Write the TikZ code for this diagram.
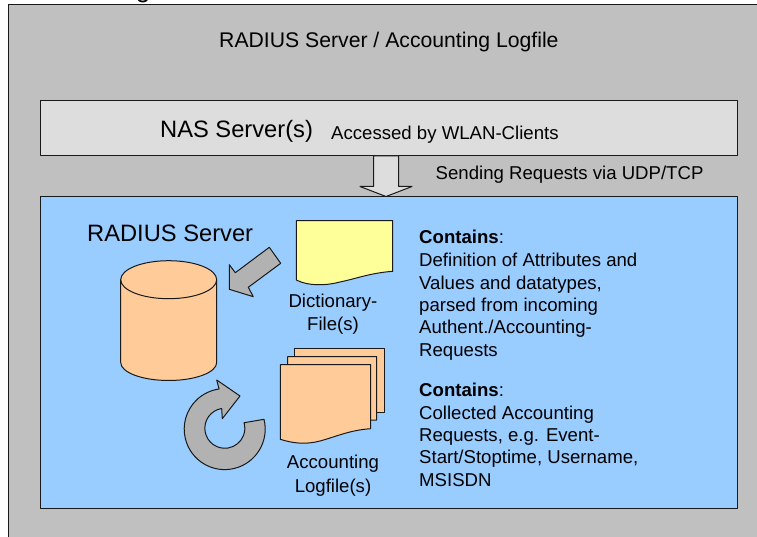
\documentclass[tikz,border=0pt]{standalone}
\usepackage{fontspec}
\setmainfont{Liberation Sans}
\newcommand{\txtfont}[1]{\fontsize{#1}{22.3}\selectfont}
\tikzset{
  shape line/.style={draw=black!90,line width=1pt,line join=round},
  base label/.style={inner sep=0pt,anchor=base west,font=\txtfont{18.6}},
  centre label/.style={inner sep=0pt,anchor=base,font=\txtfont{18.6}},
  big label/.style={inner sep=0pt,anchor=base west,font=\txtfont{23.7}},
  title label/.style={inner sep=0pt,anchor=base west,font=\txtfont{21.2}},
  side text/.style={inner sep=0pt,anchor=north west,align=left,font=\txtfont{18.6}},
  block arrow/.style={shape line,fill=arrowgray},
}
\definecolor{outergray}{HTML}{C0C0C0}
\definecolor{nasgray}{HTML}{DDDDDD}
\definecolor{panelblue}{HTML}{99CCFF}
\definecolor{peach}{HTML}{FFCC99}
\definecolor{paleyellow}{HTML}{FFFF99}
\definecolor{arrowgray}{HTML}{B2B2B2}
\begin{document}
\begin{tikzpicture}[x=1pt,y=-1pt]
\useasboundingbox (0,0) rectangle (757,537);
\begin{scope}
\clip (0,0) rectangle (757,537);
\node[inner sep=0pt,anchor=base,font=\txtfont{26}] (cut) at (143,-2.2) {g};
\draw[shape line,fill=outergray] (8.5,4.5) rectangle (770,550);
\end{scope}
\node[title label] (title) at (219,48) {RADIUS Server / Accounting Logfile};
\draw[shape line,fill=nasgray] (40.5,100.5) rectangle (737,156);
\node[big label] (nas) at (160,138) {NAS Server(s)};
\node[base label] (acc) at (331,140) {Accessed by WLAN-Clients};
\draw[shape line,fill=nasgray] (373.5,156) -- (398.5,156) -- (398.5,186.5) -- (412,186.5) -- (386,196.5) -- (360,186.5) -- (373.5,186.5) -- cycle;
\node[base label] (send) at (435.5,180) {Sending Requests via UDP/TCP};
\draw[shape line,fill=panelblue] (40.5,196.5) rectangle (737,508);
\node[big label] (rad) at (87,241.5) {RADIUS Server};
% cylinder
\draw[shape line,fill=peach] (120.7,279.7) -- (120.7,362.5) arc[start angle=180,end angle=360,x radius=48pt,y radius=18pt] -- (216.7,279.7) arc[start angle=0,end angle=180,x radius=48pt,y radius=19pt] -- cycle;
\draw[shape line] (120.7,279.7) arc[start angle=180,end angle=360,x radius=48pt,y radius=19pt];
% dictionary arrow
\draw[block arrow] (269.3,247.3) -- (280.7,263.3) -- (248.3,287.3) -- (253.3,296.7) -- (229.3,289.3) -- (229.3,264.7) -- (235.3,272.7) -- cycle;
% dictionary document
\draw[shape line,fill=paleyellow] (296.3,220.7) -- (392.7,220.7) -- (392.7,271.3) .. controls (370,273) and (355,279) .. (340,282) .. controls (325,286) and (308,286) .. (296.3,280) -- cycle;
\node[centre label] (dict1) at (333,307) {Dictionary-};
\node[centre label] (dict2) at (333,330.7) {File(s)};
% log stack
\draw[shape line,fill=peach] (294.7,348.7) -- (384.7,348.7) -- (384.7,412) -- (370,412) -- (370,360) -- (294.7,360) -- cycle;
\draw[shape line,fill=peach] (287.7,356.7) -- (376.7,356.7) -- (376.7,420) -- (365,420.5) -- (365,370) -- (287.7,370) -- cycle;
\draw[shape line,fill=peach] (280.3,364.7) -- (370.7,364.7) -- (370.7,428.7) .. controls (350,430) and (335,437) .. (320,441) .. controls (305,445) and (292,443) .. (280.3,439.3) -- cycle;
\node[centre label] (log1) at (333,468) {Accounting};
\node[centre label] (log2) at (333,492) {Logfile(s)};
% refresh arrow
\draw[block arrow] (264,419.3) arc[start angle=14,end angle=-262,radius=40.5pt] -- (216.7,380) -- (240,396) -- (222.3,418.7) -- (221.7,408.5) arc[start angle=99,end angle=376,radius=20pt] -- cycle;
\node[side text] (info1) at (419,229.4) {\textbf{Contains}:\\[1.5pt]Definition of Attributes and\\Values and datatypes,\\parsed from incoming\\Authent./Accounting-\\Requests};
\node[side text] (info2) at (419,383.2) {\textbf{Contains}:\\Collected Accounting\\Requests, e.g. Event-\\Start/Stoptime, Username,\\MSISDN};
\end{tikzpicture}
\end{document}
